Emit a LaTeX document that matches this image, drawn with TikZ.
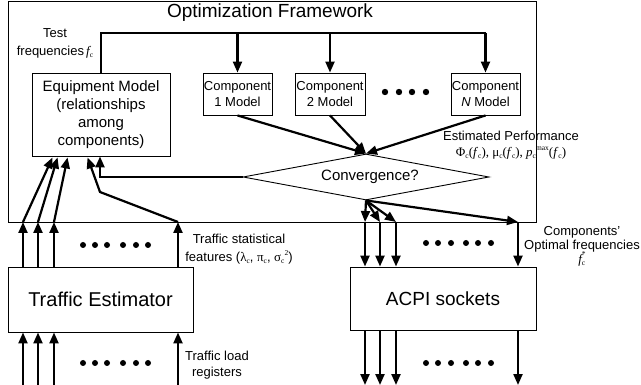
\documentclass[tikz,border=0pt]{standalone}
\usepackage{fontspec}
\setmainfont{Liberation Sans}
\newfontfamily\tms{Liberation Serif}
\usetikzlibrary{arrows.meta,shapes.geometric}
\newcommand\ssub[1]{\raisebox{-2.5pt}{\fontsize{7.5}{7.5}\selectfont #1}}
\newcommand\ssupr[1]{\raisebox{6.2pt}{\fontsize{7.5}{7.5}\selectfont #1}}
\newcommand\ssup[2]{\rlap{\raisebox{-2.5pt}{\fontsize{7.5}{7.5}\selectfont #1}}\raisebox{6.2pt}{\fontsize{7.5}{7.5}\selectfont #2}}
\begin{document}
\begin{tikzpicture}[x=1pt,y=-1pt,
  box/.style={draw,line width=0.9pt,align=center,inner sep=0pt},
  conn/.style={line width=2.2pt,-{Triangle[length=11pt,width=9pt]}},
  plain/.style={line width=2.2pt},
  lbl/.style={font=\fontsize{13}{17}\selectfont,align=center,inner sep=0pt},
  dot/.style={fill=black}]
\useasboundingbox (0,0) rectangle (641,385);
% framework
\node[draw,line width=0.9pt,minimum width=528pt,minimum height=221pt,inner sep=0pt] (fw) at (272,111.5) {};
\node[font=\fontsize{19}{22}\selectfont,inner sep=0pt] (title) at (270,13) {Optimization Framework};
% boxes
\node[box,minimum width=138pt,minimum height=83pt,font=\fontsize{15}{18}\selectfont] (eq) at (101,114.5) {Equipment Model\\(relationships\\among\\components)};
\node[box,minimum width=69pt,minimum height=42pt,font=\fontsize{13}{16}\selectfont] (c1) at (237.5,94) {Component\\1 Model};
\node[box,minimum width=70pt,minimum height=42pt,font=\fontsize{13}{16}\selectfont] (c2) at (330,94) {Component\\2 Model};
\node[box,minimum width=69pt,minimum height=42pt,font=\fontsize{13}{16}\selectfont] (cn) at (485.5,94) {Component\\\textit{N} Model};
\node[draw,line width=0.9pt,shape=diamond,minimum width=246pt,minimum height=46pt,aspect=5.35,inner sep=0pt] (cv) at (366,177) {};
\node[font=\fontsize{15}{18}\selectfont,inner sep=0pt] (cvt) at (370,177) {Convergence?};
\node[box,minimum width=185pt,minimum height=65pt,font=\fontsize{20}{24}\selectfont] (te) at (100.5,299.5) {Traffic Estimator};
\node[box,minimum width=186pt,minimum height=63pt,font=\fontsize{19}{22}\selectfont] (ac) at (443,298.5) {ACPI sockets};
% bus
\coordinate (busL) at (101,33);
\coordinate (busR) at (485.5,33);
\draw[plain] (eq.north) -- (busL) -- (busR);
\draw[conn] (c1.north |- busL) -- (c1.north);
\draw[conn] (c2.north |- busL) -- (c2.north);
\draw[conn] (busR) -- (cn.north);
% components to convergence
\draw[conn] (c1.south) -- (cv.north);
\draw[conn] (c2.south) -- (cv.north);
\draw[conn] (cn.south) -- (cv.north);
% convergence back to equipment
\draw[conn] (cv.west) -| ([xshift=-1pt]eq.south);
% outputs
\coordinate (o1) at (365,222);
\coordinate (o2) at (380,222);
\coordinate (o3) at (396,222);
\coordinate (o4) at (518,222);
\foreach \o in {o1,o2,o3,o4}{
  \draw[conn] (cv.south) -- (\o);
  \draw[conn] (\o) -- (\o |- ac.north);
}
\coordinate (e1) at (365,385);
\coordinate (e2) at (380,385);
\coordinate (e3) at (396,385);
\coordinate (e4) at (518,385);
\foreach \o/\e in {o1/e1,o2/e2,o3/e3,o4/e4}{
  \draw[conn] (ac.south -| \o) -- (\e);
}
% traffic estimator outputs
\coordinate (t1) at (23,222);
\coordinate (t2) at (38,222);
\coordinate (t3) at (54,222);
\coordinate (t4) at (178,222);
\foreach \t in {t1,t2,t3,t4}{
  \draw[conn] (te.north -| \t) -- (\t);
}
\draw[conn] (t1) -- ([xshift=21pt,yshift=-1pt]eq.south west);
\draw[conn] (t2) -- ([xshift=26pt,yshift=-1pt]eq.south west);
\draw[conn] (t3) -- ([xshift=36pt,yshift=-1pt]eq.south west);
\coordinate (bend) at (100,192);
\draw[conn] (t4) -- (bend) -- ([xshift=56pt,yshift=-1pt]eq.south west);
\coordinate (b1) at (23,385);
\coordinate (b2) at (38,385);
\coordinate (b3) at (54,385);
\coordinate (b4) at (178,385);
\foreach \b in {b1,b2,b3,b4}{
  \draw[conn] (\b) -- (te.south -| \b);
}
% dots
\foreach \x in {385,399,412,426}{\fill[dot] (\x,92) circle (3.2pt);}
\foreach \x in {83,95,107,123,136,148}{\fill[dot] (\x,245) circle (3pt); \fill[dot] (\x,363) circle (3pt);}
\foreach \x in {426,438,451,466,478,491}{\fill[dot] (\x,243) circle (3pt); \fill[dot] (\x,363) circle (3pt);}
% labels
\node[lbl,font=\fontsize{13}{18}\selectfont] (ltest) at (55,43) {Test\\frequencies\,{\tms\itshape f}{\tms\ssub{c}}};
\node[lbl,font=\fontsize{13}{16}\selectfont] (lperf) at (511,145) {Estimated Performance\\{\tms Φ\ssub{c}(\textit{f}\ssub{c}), μ\ssub{c}(\textit{f}\ssub{c}), \textit{p}\ssub{c}\ssupr{max}(\textit{f}\ssub{c})}};
\node[lbl,font=\fontsize{13}{18}\selectfont] (lfeat) at (239,249) {Traffic statistical\\features ({\tms λ\ssub{c}}, {\tms π\ssub{c}}, {\tms σ\ssub{c}\ssupr{2}})};
\node[lbl,font=\fontsize{13}{14}\selectfont] (lopt) at (582,246) {Components'\\Optimal frequencies\\{\tms\itshape f}{\tms\ssup{c}{*}}};
\node[lbl,font=\fontsize{13}{16}\selectfont] (lload) at (217,365) {Traffic load\\registers};
\end{tikzpicture}
\end{document}
